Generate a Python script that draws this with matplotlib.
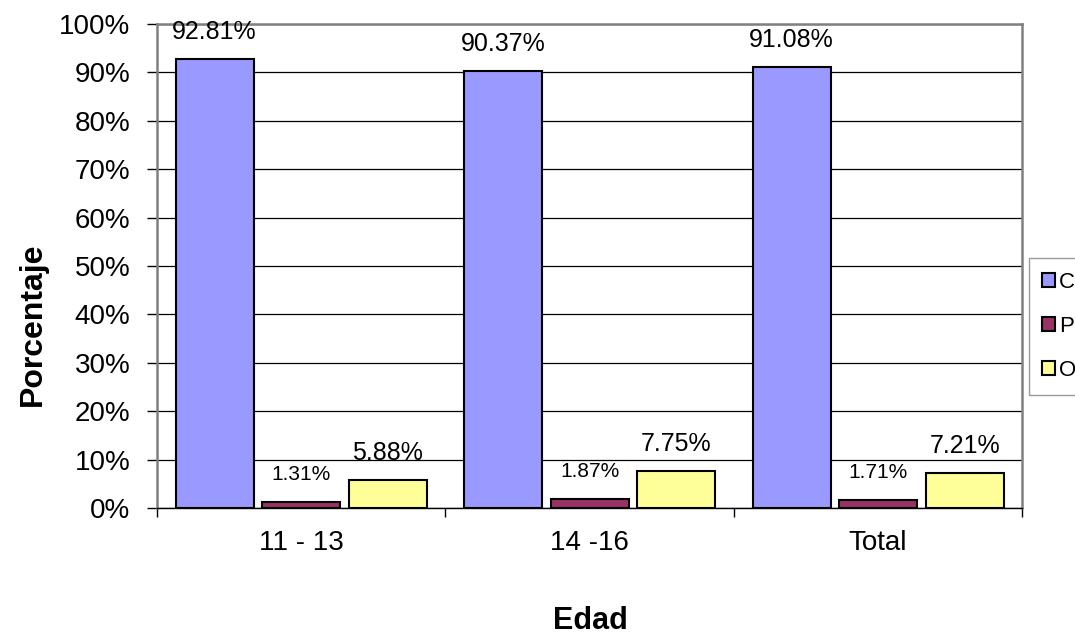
import matplotlib.pyplot as plt
import numpy as np

plt.rcParams["font.family"] = ["Liberation Sans", "DejaVu Sans"]

CATEGORIES = ["11 - 13", "14 -16", "Total"]
SERIES_NAMES = ["C", "P", "O"]
SERIES_VALUES = [
    [92.81, 90.37, 91.08],
    [1.31, 1.87, 1.71],
    [5.88, 7.75, 7.21],
]
SERIES_COLORS = ["#9999FF", "#993366", "#FFFF99"]
LABEL_SIZES = [18, 15, 18]
Y_TICKS = list(range(0, 101, 10))


def main() -> None:
    fig = plt.figure(figsize=(10.75, 6.4), dpi=100)
    ax = fig.add_axes([0.146, 0.206, 0.805, 0.7565])

    x = np.arange(len(CATEGORIES))
    width = 0.27
    step = 0.30
    handles = []
    for i, (name, vals, color) in enumerate(zip(SERIES_NAMES, SERIES_VALUES, SERIES_COLORS)):
        pos = x + (i - 1) * step
        bars = ax.bar(pos, vals, width=width, color=color, edgecolor="black",
                      linewidth=1.5, zorder=3, label=name)
        handles.append(bars)
        for xi, v in zip(pos, vals):
            ax.text(xi, v + 5.6, f"{v:.2f}%", ha="center", va="center",
                    fontsize=LABEL_SIZES[i], zorder=4)

    ax.set_xlim(-0.5, len(CATEGORIES) - 0.5)
    ax.set_ylim(0, 100)
    ax.set_yticks(Y_TICKS)
    ax.set_yticklabels([f"{t}%" for t in Y_TICKS], fontsize=20)
    ax.set_xticks(x)
    ax.set_xticklabels(CATEGORIES, fontsize=20)
    ax.tick_params(axis="x", which="major", length=0, pad=16)
    ax.set_xticks(np.arange(-0.5, len(CATEGORIES)), minor=True)
    ax.tick_params(axis="x", which="minor", length=6.5, width=1, direction="out")
    ax.tick_params(axis="y", length=7, width=1, direction="out", pad=12)

    ax.yaxis.grid(True, color="black", linewidth=0.9, zorder=0)
    ax.set_axisbelow(True)
    for side in ("top", "right", "left"):
        ax.spines[side].set_color("#808080")
        ax.spines[side].set_linewidth(1.8)
    ax.spines["bottom"].set_color("black")
    ax.spines["bottom"].set_linewidth(1.0)

    fig.text(0.031, 0.493, "Porcentaje", ha="center", va="center", rotation=90,
             fontsize=23, fontweight="bold")
    fig.text(0.549, 0.03, "Edad", ha="center", va="center", fontsize=22,
             fontweight="bold")

    leg = fig.legend(handles=handles, labels=SERIES_NAMES, loc="center left",
                     bbox_to_anchor=(0.957, 0.49), fontsize=16, frameon=True,
                     fancybox=False, edgecolor="#808080", handlelength=0.6,
                     handleheight=0.6, handletextpad=0.15, labelspacing=1.05,
                     borderpad=0.6, borderaxespad=0)
    leg.get_frame().set_linewidth(1.0)

    fig.savefig("out.png", dpi=100)
    plt.close(fig)


if __name__ == "__main__":
    main()
